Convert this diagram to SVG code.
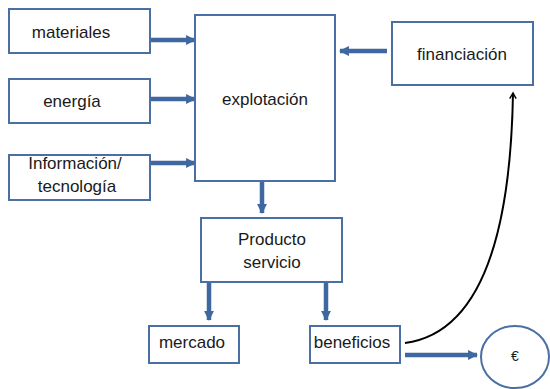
<svg xmlns="http://www.w3.org/2000/svg" width="550" height="389" viewBox="0 0 550 389">
<style>
.box{fill:#fff;stroke:#4a6fa5;stroke-width:2}
.t{font-family:"Liberation Sans",Arial,sans-serif;font-size:17px;fill:#1a1a1a;text-anchor:middle}
.a{stroke:#3f68a1;stroke-width:4.5;fill:none}
</style>
<defs>
<marker id="ah" viewBox="0 0 10 10" refX="9" refY="5" markerWidth="2.2" markerHeight="2.6" orient="auto" markerUnits="strokeWidth">
<path d="M0,0 L10,5 L0,10 z" fill="#3f68a1"/>
</marker>
<marker id="bh" viewBox="0 0 10 10" refX="8" refY="5" markerWidth="8" markerHeight="8" orient="auto" markerUnits="userSpaceOnUse">
<path d="M1,1 L8,5 L1,9" fill="none" stroke="#000" stroke-width="1.8"/>
</marker>
</defs>
<g id="connectors">
<line class="a" x1="150" y1="40" x2="195" y2="40" marker-end="url(#ah)"/>
<line class="a" x1="150" y1="99" x2="195" y2="99" marker-end="url(#ah)"/>
<line class="a" x1="150" y1="163" x2="195" y2="163" marker-end="url(#ah)"/>
<line class="a" x1="387" y1="51" x2="340" y2="51" marker-end="url(#ah)"/>
<line class="a" x1="262" y1="181" x2="262" y2="213" marker-end="url(#ah)"/>
<line class="a" x1="209" y1="282" x2="209" y2="320" marker-end="url(#ah)"/>
<line class="a" x1="326" y1="282" x2="326" y2="320" marker-end="url(#ah)"/>
<line class="a" x1="405" y1="355" x2="477" y2="355" marker-end="url(#ah)"/>
<path d="M405,343 C465,335 510,270 513,93" fill="none" stroke="#000" stroke-width="2" marker-end="url(#bh)"/>
</g>
<g id="materiales"><rect class="box" x="9" y="9" width="141" height="44"/><text class="t" x="71" y="38">materiales</text></g>
<g id="energia"><rect class="box" x="9" y="79" width="141" height="44"/><text class="t" x="72" y="107">energía</text></g>
<g id="informacion"><rect class="box" x="9" y="155" width="141" height="45"/><text class="t" x="75" y="169">Información/</text><text class="t" x="77" y="192">tecnología</text></g>
<g id="explotacion"><rect class="box" x="195" y="15" width="140" height="166"/><text class="t" x="265" y="105">explotación</text></g>
<g id="financiacion"><rect class="box" x="392" y="22" width="141" height="63"/><text class="t" x="462" y="60">financiación</text></g>
<g id="producto"><rect class="box" x="201" y="218" width="141" height="64"/><text class="t" x="272" y="245">Producto</text><text class="t" x="272" y="268">servicio</text></g>
<g id="mercado"><rect class="box" x="149" y="326" width="90" height="37"/><text class="t" x="192" y="348">mercado</text></g>
<g id="beneficios"><rect class="box" x="310" y="326" width="90" height="37"/><text class="t" x="352" y="348">beneficios</text></g>
<g id="euro"><ellipse class="box" cx="515" cy="357" rx="34" ry="31"/><text class="t" x="515" y="361" style="font-size:14px">€</text></g>
</svg>
